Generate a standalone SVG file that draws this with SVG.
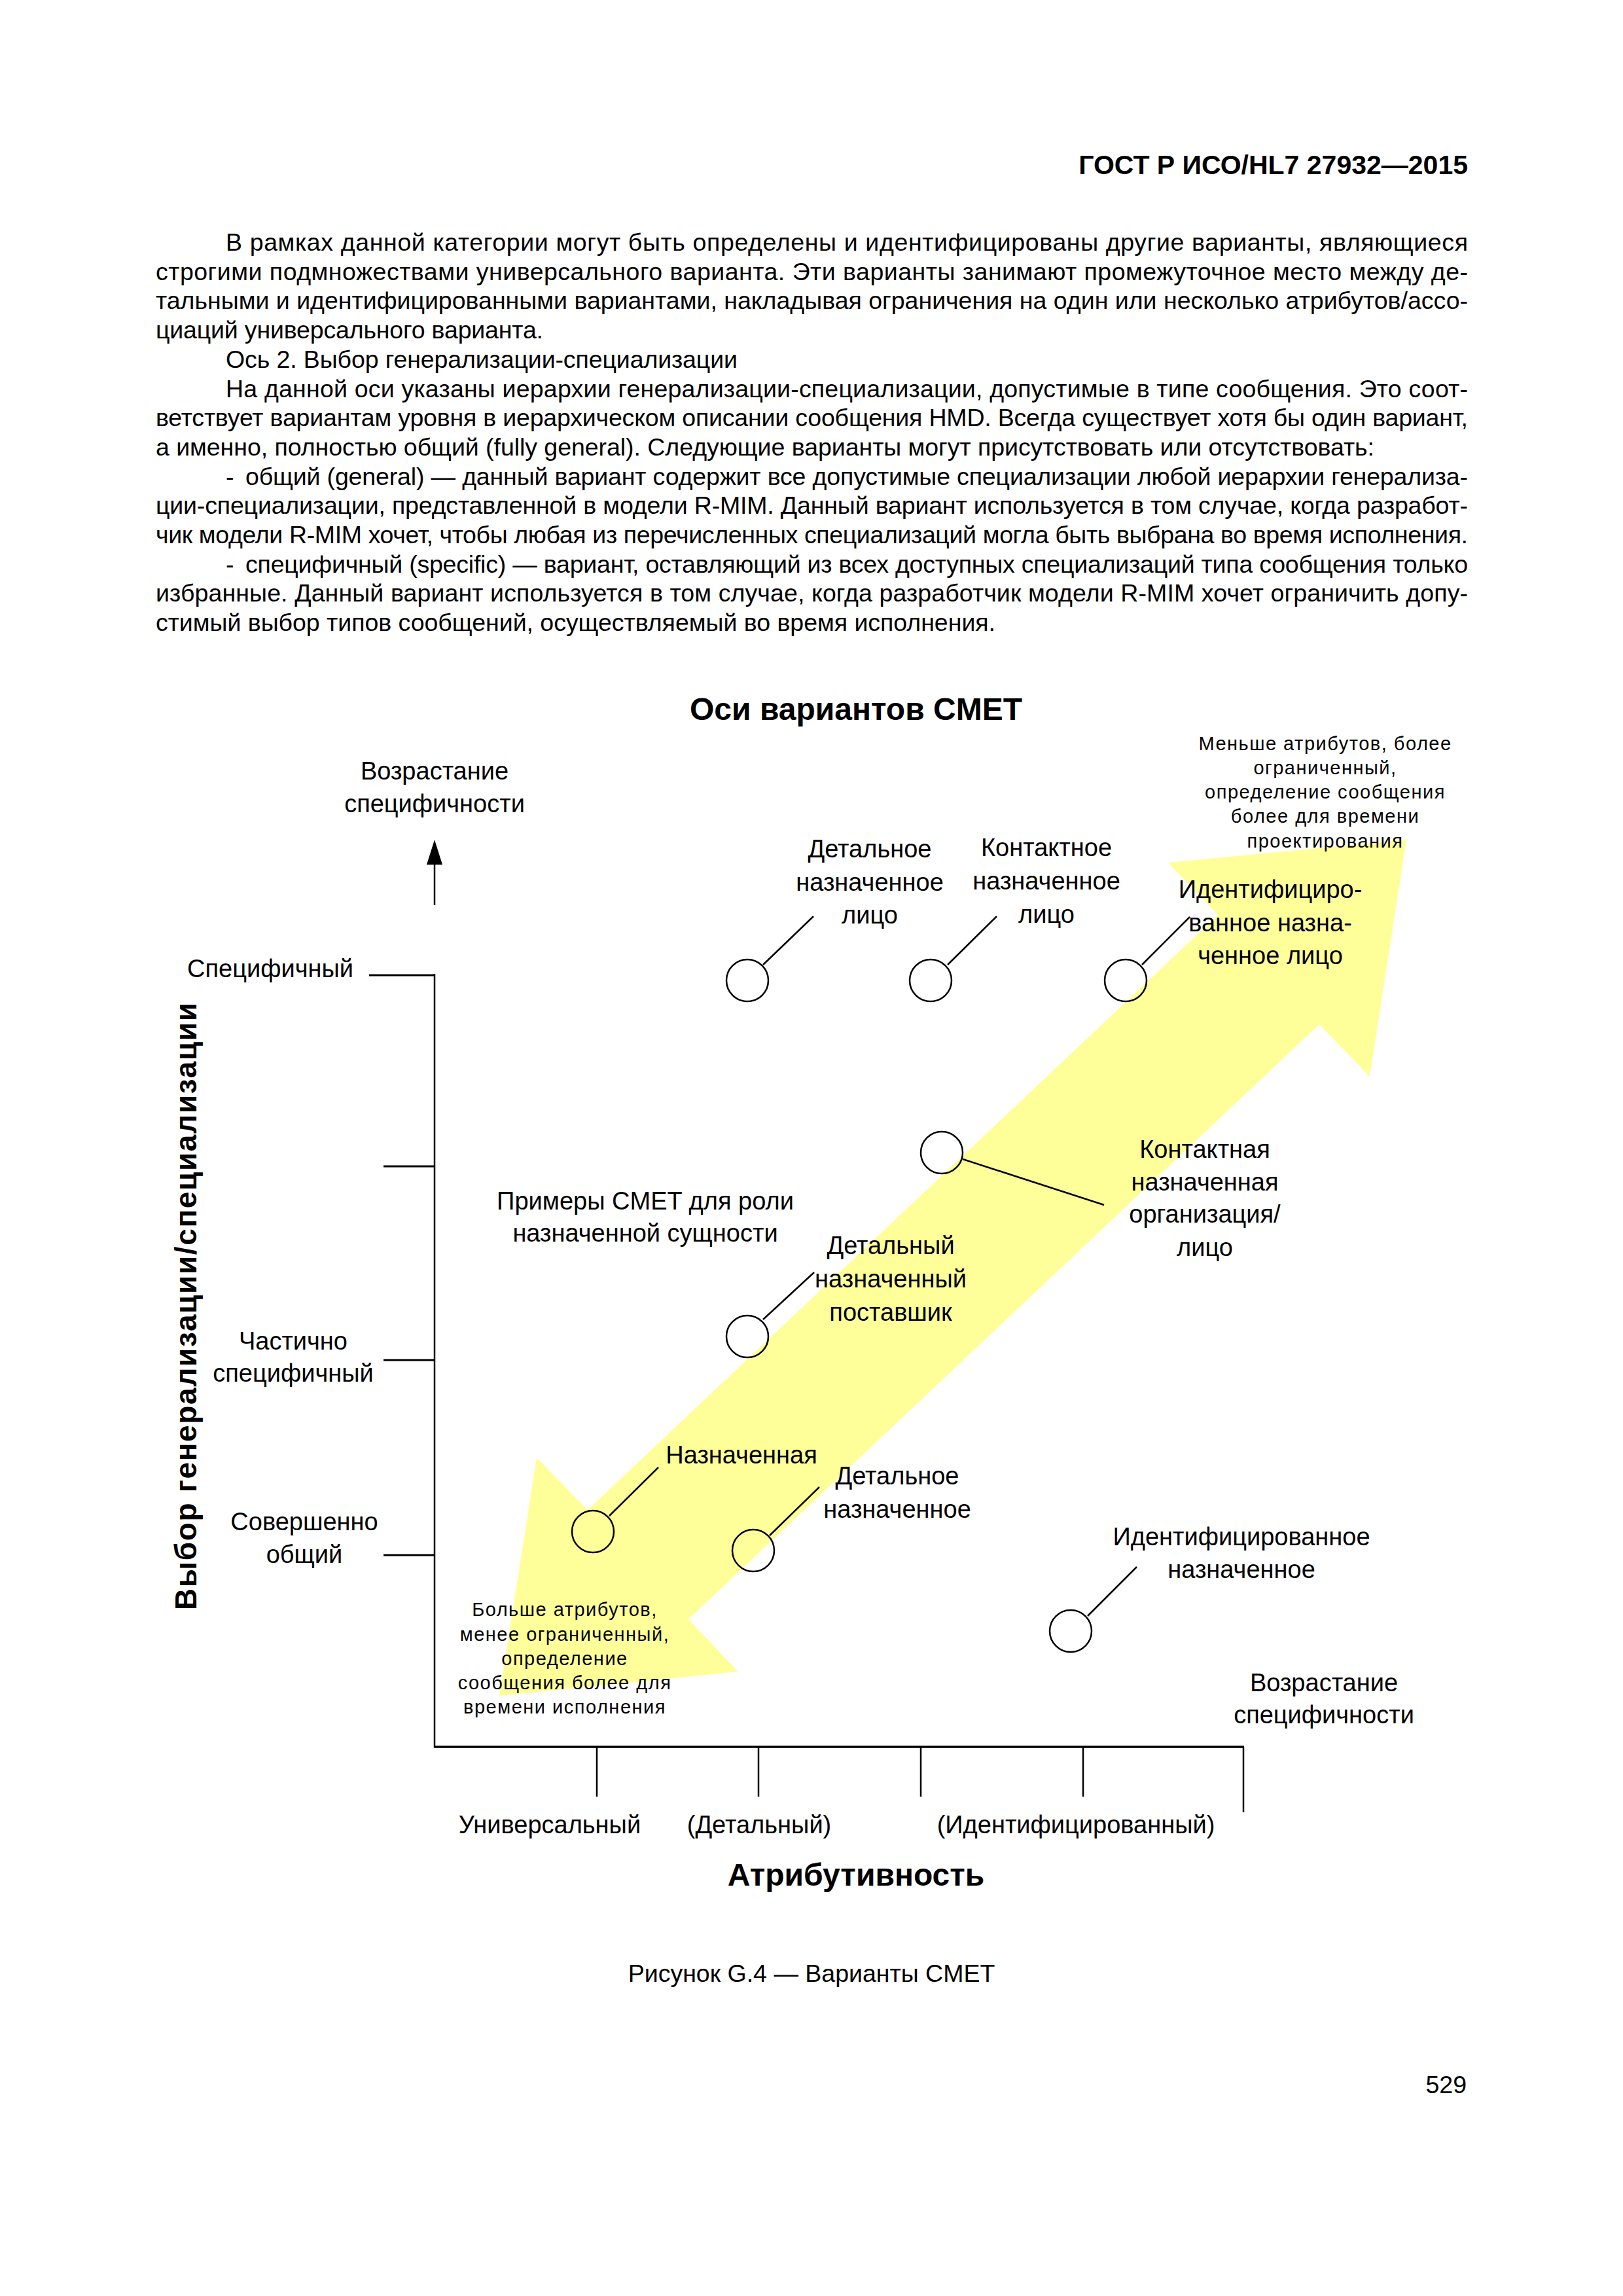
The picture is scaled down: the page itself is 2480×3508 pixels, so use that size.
<svg xmlns="http://www.w3.org/2000/svg" width="2480" height="3508" viewBox="0 0 2480 3508">
<style>
.body{font-family:"Liberation Sans",Arial,sans-serif;font-size:37.5px;fill:#000}
.hdr{font-family:"Liberation Sans",Arial,sans-serif;font-size:41px;font-weight:bold;fill:#000}
.lbl{font-family:"Liberation Sans",Arial,sans-serif;font-size:38px;fill:#000;text-anchor:middle}
.sm{font-family:"Liberation Sans",Arial,sans-serif;font-size:29px;letter-spacing:1.5px;fill:#000;text-anchor:middle}
.ttl{font-family:"Liberation Sans",Arial,sans-serif;font-size:48px;font-weight:bold;fill:#000;text-anchor:middle}
.node{fill:none;stroke:#000;stroke-width:2.5}
.lead{stroke:#000;stroke-width:2.5;fill:none}
.ax{stroke:#000;fill:none}
</style>
<rect width="2480" height="3508" fill="#fff"/>

<g id="page-text">
<text class="hdr" x="2243" y="266" text-anchor="end">ГОСТ Р ИСО/HL7 27932—2015</text>
<text class="body" x="345" y="383" textLength="1898" lengthAdjust="spacing">В рамках данной категории могут быть определены и идентифицированы другие варианты, являющиеся</text>
<text class="body" x="238" y="427.7" textLength="2005" lengthAdjust="spacing">строгими подмножествами универсального варианта. Эти варианты занимают промежуточное место между де-</text>
<text class="body" x="238" y="472.4" textLength="2005" lengthAdjust="spacing">тальными и идентифицированными вариантами, накладывая ограничения на один или несколько атрибутов/ассо-</text>
<text class="body" x="238" y="517.1" textLength="592" lengthAdjust="spacing">циаций универсального варианта.</text>
<text class="body" x="345" y="561.8" textLength="782" lengthAdjust="spacing">Ось 2. Выбор генерализации-специализации</text>
<text class="body" x="345" y="606.5" textLength="1898" lengthAdjust="spacing">На данной оси указаны иерархии генерализации-специализации, допустимые в типе сообщения. Это соот-</text>
<text class="body" x="238" y="651.2" textLength="2005" lengthAdjust="spacing">ветствует вариантам уровня в иерархическом описании сообщения HMD. Всегда существует хотя бы один вариант,</text>
<text class="body" x="238" y="695.9" textLength="1862" lengthAdjust="spacing">а именно, полностью общий (fully general). Следующие варианты могут присутствовать или отсутствовать:</text>
<text class="body" x="345" y="740.6">-</text>
<text class="body" x="375" y="740.6" textLength="1868" lengthAdjust="spacing">общий (general) — данный вариант содержит все допустимые специализации любой иерархии генерализа-</text>
<text class="body" x="238" y="785.3" textLength="2005" lengthAdjust="spacing">ции-специализации, представленной в модели R-MIM. Данный вариант используется в том случае, когда разработ-</text>
<text class="body" x="238" y="830" textLength="2005" lengthAdjust="spacing">чик модели R-MIM хочет, чтобы любая из перечисленных специализаций могла быть выбрана во время исполнения.</text>
<text class="body" x="345" y="874.7">-</text>
<text class="body" x="375" y="874.7" textLength="1868" lengthAdjust="spacing">специфичный (specific) — вариант, оставляющий из всех доступных специализаций типа сообщения только</text>
<text class="body" x="238" y="919.4" textLength="2005" lengthAdjust="spacing">избранные. Данный вариант используется в том случае, когда разработчик модели R-MIM хочет ограничить допу-</text>
<text class="body" x="238" y="964.1" textLength="1283" lengthAdjust="spacing">стимый выбор типов сообщений, осуществляемый во время исполнения.</text>
<text class="body" x="1240" y="3028" text-anchor="middle">Рисунок G.4 — Варианты CMET</text>
<text class="body" x="2241" y="3198" text-anchor="end">529</text>
</g>

<g id="band">
<polygon fill="#FFFF99" points="2149,1283 2093,1645 2016,1565 1052,2474 1128,2554 763,2591 820,2227 898,2307 1861,1398 1785,1318"/>
</g>

<g id="axes">
<text class="ttl" x="1308" y="1100">Оси вариантов CMET</text>
<line class="ax" x1="664" y1="1318" x2="664" y2="1383" stroke-width="2.5"/>
<polygon points="664,1283 652,1321 676,1321" fill="#000"/>
<text class="lbl" x="664" y="1191">Возрастание</text>
<text class="lbl" x="664" y="1241">специфичности</text>
<line class="ax" x1="664" y1="1488" x2="664" y2="2670" stroke-width="2.5"/>
<line class="ax" x1="564" y1="1490" x2="664" y2="1490" stroke-width="3"/>
<line class="ax" x1="586" y1="1782" x2="664" y2="1782" stroke-width="3"/>
<line class="ax" x1="586" y1="2078" x2="664" y2="2078" stroke-width="3"/>
<line class="ax" x1="586" y1="2376" x2="664" y2="2376" stroke-width="3"/>
<line class="ax" x1="663" y1="2669" x2="1901" y2="2669" stroke-width="3.5"/>
<line class="ax" x1="912" y1="2669" x2="912" y2="2745" stroke-width="2.5"/>
<line class="ax" x1="1159" y1="2669" x2="1159" y2="2745" stroke-width="2.5"/>
<line class="ax" x1="1407" y1="2669" x2="1407" y2="2745" stroke-width="2.5"/>
<line class="ax" x1="1655" y1="2669" x2="1655" y2="2745" stroke-width="2.5"/>
<line class="ax" x1="1900" y1="2669" x2="1900" y2="2769" stroke-width="2.5"/>
<text class="lbl" x="540" y="1493" text-anchor="end" style="text-anchor:end">Специфичный</text>
<text class="lbl" x="448" y="2062">Частично</text>
<text class="lbl" x="448" y="2111">специфичный</text>
<text class="lbl" x="465" y="2338">Совершенно</text>
<text class="lbl" x="465" y="2388">общий</text>
<text class="ttl" transform="translate(300,1996) rotate(-90)" font-size="46" textLength="928" lengthAdjust="spacing" style="font-size:46px">Выбор генерализации/специализации</text>
<text class="lbl" x="840" y="2801">Универсальный</text>
<text class="lbl" x="1160" y="2801">(Детальный)</text>
<text class="lbl" x="1644" y="2801">(Идентифицированный)</text>
<text class="ttl" x="1308" y="2881">Атрибутивность</text>
<text class="lbl" x="2023" y="2584">Возрастание</text>
<text class="lbl" x="2023" y="2633">специфичности</text>
<text class="sm" x="2025" y="1146">Меньше атрибутов, более</text>
<text class="sm" x="2025" y="1183">ограниченный,</text>
<text class="sm" x="2025" y="1220">определение сообщения</text>
<text class="sm" x="2025" y="1257">более для времени</text>
<text class="sm" x="2025" y="1295">проектирования</text>
<text class="sm" x="863" y="2469">Больше атрибутов,</text>
<text class="sm" x="863" y="2507">менее ограниченный,</text>
<text class="sm" x="863" y="2544">определение</text>
<text class="sm" x="863" y="2581">сообщения более для</text>
<text class="sm" x="863" y="2618">времени исполнения</text>
<text class="lbl" x="986" y="1848">Примеры CMET для роли</text>
<text class="lbl" x="986" y="1897">назначенной сущности</text>
</g>

<g id="connectors">
<line class="lead" x1="1166" y1="1474" x2="1243" y2="1400"/>
<line class="lead" x1="1448" y1="1474" x2="1523" y2="1400"/>
<line class="lead" x1="1745" y1="1474" x2="1818" y2="1401"/>
<line class="lead" x1="1471" y1="1771" x2="1687" y2="1841"/>
<line class="lead" x1="1166" y1="2016" x2="1244" y2="1944"/>
<line class="lead" x1="931" y1="2316" x2="1006" y2="2242"/>
<line class="lead" x1="1176" y1="2346" x2="1252" y2="2272"/>
<line class="lead" x1="1662" y1="2469" x2="1737" y2="2394"/>
</g>

<g id="node-detailed-person">
<circle class="node" cx="1142" cy="1498" r="32"/>
<text class="lbl" x="1329" y="1310">Детальное</text>
<text class="lbl" x="1329" y="1361">назначенное</text>
<text class="lbl" x="1329" y="1411">лицо</text>
</g>
<g id="node-contact-person">
<circle class="node" cx="1422" cy="1498" r="32"/>
<text class="lbl" x="1599" y="1308">Контактное</text>
<text class="lbl" x="1599" y="1359">назначенное</text>
<text class="lbl" x="1599" y="1410">лицо</text>
</g>
<g id="node-identified-person">
<circle class="node" cx="1720" cy="1498" r="32"/>
<text class="lbl" x="1941" y="1372">Идентифициро-</text>
<text class="lbl" x="1941" y="1423">ванное назна-</text>
<text class="lbl" x="1941" y="1473">ченное лицо</text>
</g>
<g id="node-contact-org">
<circle class="node" cx="1439" cy="1761" r="32"/>
<text class="lbl" x="1841" y="1769">Контактная</text>
<text class="lbl" x="1841" y="1819">назначенная</text>
<text class="lbl" x="1841" y="1868">организация/</text>
<text class="lbl" x="1841" y="1919">лицо</text>
</g>
<g id="node-detailed-supplier">
<circle class="node" cx="1142" cy="2042" r="32"/>
<text class="lbl" x="1361" y="1916">Детальный</text>
<text class="lbl" x="1361" y="1967">назначенный</text>
<text class="lbl" x="1361" y="2018">поставшик</text>
</g>
<g id="node-assigned">
<circle class="node" cx="906" cy="2340" r="32"/>
<text class="lbl" x="1133" y="2236">Назначенная</text>
</g>
<g id="node-detailed-assigned">
<circle class="node" cx="1151" cy="2369" r="32"/>
<text class="lbl" x="1371" y="2268">Детальное</text>
<text class="lbl" x="1371" y="2319">назначенное</text>
</g>
<g id="node-identified-assigned">
<circle class="node" cx="1636" cy="2492" r="32"/>
<text class="lbl" x="1897" y="2361">Идентифицированное</text>
<text class="lbl" x="1897" y="2411">назначенное</text>
</g>
</svg>
